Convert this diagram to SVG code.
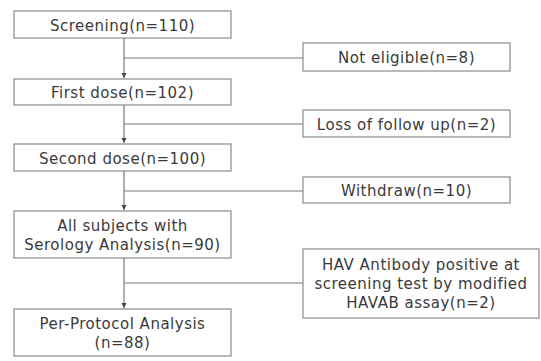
<svg xmlns="http://www.w3.org/2000/svg" width="541" height="361" viewBox="0 0 541 361">
<defs>
<marker id="arr" markerWidth="6" markerHeight="6" refX="5" refY="3" orient="auto" markerUnits="userSpaceOnUse">
<path d="M0,0.5 L5,3 L0,5.5 Z" fill="#444"/>
</marker>
<style>
.box{fill:#fff;stroke:#8a8a8a;stroke-width:1.2}
.t{font-family:"DejaVu Sans",sans-serif;font-size:15px;letter-spacing:0.5px;fill:#3a3a3a;text-anchor:middle}
.ln{stroke:#7a7a7a;stroke-width:1.2;fill:none}
</style>
</defs>
<rect width="541" height="361" fill="#fff"/>
<g id="connectors">
<path class="ln" d="M124,38 V78" marker-end="url(#arr)"/>
<path class="ln" d="M124,58 H303"/>
<path class="ln" d="M124,105 V143" marker-end="url(#arr)"/>
<path class="ln" d="M124,124 H303"/>
<path class="ln" d="M124,171 V210" marker-end="url(#arr)"/>
<path class="ln" d="M124,191 H303"/>
<path class="ln" d="M124,258 V308" marker-end="url(#arr)"/>
<path class="ln" d="M124,283 H303"/>
</g>
<g id="screening">
<rect class="box" x="14" y="11" width="217" height="27"/>
<text class="t" x="122.5" y="30.5">Screening(n=110)</text>
</g>
<g id="not-eligible">
<rect class="box" x="303" y="43" width="207" height="28"/>
<text class="t" x="406.5" y="62.5">Not eligible(n=8)</text>
</g>
<g id="first-dose">
<rect class="box" x="14" y="79" width="217" height="26"/>
<text class="t" x="122.5" y="98">First dose(n=102)</text>
</g>
<g id="loss">
<rect class="box" x="303" y="110" width="207" height="27"/>
<text class="t" x="406.5" y="129.5">Loss of follow up(n=2)</text>
</g>
<g id="second-dose">
<rect class="box" x="14" y="144" width="217" height="27"/>
<text class="t" x="122.5" y="164">Second dose(n=100)</text>
</g>
<g id="withdraw">
<rect class="box" x="303" y="177" width="207" height="26"/>
<text class="t" x="406.5" y="196">Withdraw(n=10)</text>
</g>
<g id="all-subjects">
<rect class="box" x="14" y="211" width="217" height="47"/>
<text class="t" x="122.5" y="231">All subjects with</text>
<text class="t" x="122.5" y="250">Serology Analysis(n=90)</text>
</g>
<g id="hav">
<rect class="box" x="303" y="249" width="236" height="69"/>
<text class="t" x="421" y="270">HAV Antibody positive at</text>
<text class="t" x="421" y="289">screening test by modified</text>
<text class="t" x="421" y="308">HAVAB assay(n=2)</text>
</g>
<g id="per-protocol">
<rect class="box" x="14" y="309" width="217" height="47"/>
<text class="t" x="122.5" y="328.5">Per-Protocol Analysis</text>
<text class="t" x="122.5" y="347.5">(n=88)</text>
</g>
</svg>
